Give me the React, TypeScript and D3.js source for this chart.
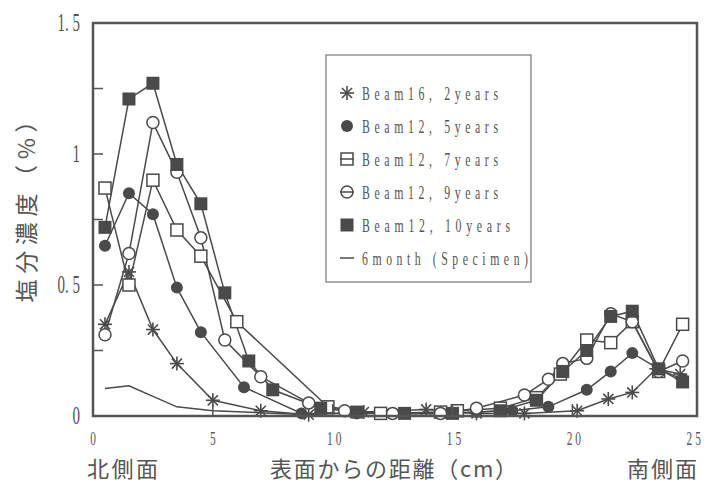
import React from "react";
import * as d3 from "d3";

// distance from north face (cm) and chloride content (%) per series
const x2y = [0.5, 1.5, 2.5, 3.5, 5, 7, 9, 11.3, 13.9, 16, 18, 20.2, 21.5, 22.5, 23.5, 24.5];
const v2y = [0.35, 0.55, 0.33, 0.2, 0.06, 0.02, 0.005, 0.015, 0.025, 0.01, 0.01, 0.02, 0.065, 0.09, 0.18, 0.16];

const x5y = [0.5, 1.5, 2.5, 3.5, 4.5, 6.3, 8.7, 11, 12.5, 14.5, 16, 17.5, 19, 20.6, 21.6, 22.5, 23.6, 24.6];
const v5y = [0.65, 0.85, 0.77, 0.49, 0.32, 0.11, 0.01, 0.01, 0.01, 0.01, 0.015, 0.02, 0.035, 0.1, 0.17, 0.24, 0.18, 0.14];

const x7y = [0.5, 1.5, 2.5, 3.5, 4.5, 6, 9.8, 12, 14.5, 15.2, 17, 18.5, 19.5, 20.6, 21.6, 22.5, 23.6, 24.6];
const v7y = [0.87, 0.5, 0.9, 0.71, 0.61, 0.36, 0.035, 0.01, 0.015, 0.02, 0.03, 0.07, 0.16, 0.29, 0.28, 0.36, 0.17, 0.35];

const x9y = [0.5, 1.5, 2.5, 3.5, 4.5, 5.5, 7, 9, 10.5, 12.5, 14.5, 16, 18, 19, 19.6, 20.6, 21.6, 22.5, 23.6, 24.6];
const v9y = [0.31, 0.62, 1.12, 0.93, 0.68, 0.29, 0.15, 0.05, 0.02, 0.01, 0.01, 0.03, 0.08, 0.14, 0.2, 0.22, 0.39, 0.36, 0.17, 0.21];

const x10y = [0.5, 1.5, 2.5, 3.5, 4.5, 5.5, 6.5, 7.5, 9.5, 11, 13, 15, 17, 18.5, 19.6, 20.6, 21.6, 22.5, 23.6, 24.6];
const v10y = [0.72, 1.21, 1.27, 0.96, 0.81, 0.47, 0.21, 0.1, 0.03, 0.015, 0.01, 0.01, 0.02, 0.06, 0.17, 0.25, 0.38, 0.4, 0.18, 0.13];

const x6m = [0.5, 1.5, 2.5, 3.5, 5, 9.5];
const v6m = [0.105, 0.115, 0.075, 0.035, 0.02, 0.003];

const legendLabels = ["Beam16, 2years", "Beam12, 5years", "Beam12, 7years", "Beam12, 9years", "Beam12, 10years", "6month (Specimen)"];
const legendWidths = [136, 136, 136, 136, 148, 166];
const yTicks = [0, 0.5, 1, 1.5];
const yTickText = ["0", "0. 5", "1", "1. 5"];
const yMinor = [0.25, 0.5, 0.75, 1, 1.25];
const xTicks = [0, 5, 10, 15, 20, 25];

const ink = "#4a4a4a";
const cjk = "'Noto Sans CJK JP', sans-serif";
const num = "'Liberation Serif', serif";

type Shape = "star" | "dot" | "square" | "circle" | "fsquare" | "none";

const Marker = ({ shape, x, y }: { shape: Shape; x: number; y: number }) => {
  if (shape === "star") {
    const r = 7;
    const d = r * 0.72;
    return (
      <g stroke={ink} strokeWidth={1.6}>
        <line x1={x} y1={y - r} x2={x} y2={y + r} />
        <line x1={x - r} y1={y} x2={x + r} y2={y} />
        <line x1={x - d} y1={y - d} x2={x + d} y2={y + d} />
        <line x1={x - d} y1={y + d} x2={x + d} y2={y - d} />
      </g>
    );
  }
  if (shape === "dot") return <circle cx={x} cy={y} r={6} fill={ink} />;
  if (shape === "circle") return <circle cx={x} cy={y} r={6} fill="#fff" stroke={ink} strokeWidth={1.5} />;
  if (shape === "square") return <rect x={x - 6} y={y - 6} width={12} height={12} fill="#fff" stroke={ink} strokeWidth={1.5} />;
  if (shape === "fsquare") return <rect x={x - 6.5} y={y - 6.5} width={13} height={13} fill={ink} />;
  return null;
};

export default function App() {
  const x = d3.scaleLinear().domain([0, 25.2]).range([93, 697]);
  const y = d3.scaleLinear().domain([0, 1.5]).range([416, 23]);

  const series: { xs: number[]; vs: number[]; shape: Shape }[] = [
    { xs: x6m, vs: v6m, shape: "none" },
    { xs: x2y, vs: v2y, shape: "star" },
    { xs: x5y, vs: v5y, shape: "dot" },
    { xs: x7y, vs: v7y, shape: "square" },
    { xs: x9y, vs: v9y, shape: "circle" },
    { xs: x10y, vs: v10y, shape: "fsquare" },
  ];
  const legendShapes: Shape[] = ["star", "dot", "square", "circle", "fsquare", "none"];

  const line = d3
    .line<[number, number]>()
    .x((d) => x(d[0]))
    .y((d) => y(d[1]));

  return (
    <svg width={708} height={483} style={{ position: "absolute", left: 0, top: 0, background: "#fff" }}>
      {/* series lines */}
      {series.map((s, i) => (
        <path
          key={"l" + i}
          d={line(s.xs.map((v, j) => [v, s.vs[j]] as [number, number])) || ""}
          fill="none"
          stroke={ink}
          strokeWidth={1.5}
        />
      ))}
      {/* markers */}
      {series.map((s, i) => (
        <g key={"m" + i}>
          {s.xs.map((v, j) => (
            <Marker key={j} shape={s.shape} x={x(v)} y={y(s.vs[j])} />
          ))}
        </g>
      ))}

      {/* frame */}
      <rect x={93} y={23} width={604} height={393} fill="none" stroke="#555" strokeWidth={2.5} />
      {yMinor.map((t) => (
        <line key={"yt" + t} x1={93} x2={103} y1={y(t)} y2={y(t)} stroke="#555" strokeWidth={1.5} />
      ))}
      {xTicks.slice(1, 5).map((t) => (
        <line key={"xt" + t} x1={x(t)} x2={x(t)} y1={416} y2={404} stroke="#555" strokeWidth={1.5} />
      ))}

      {/* y tick labels */}
      {yTicks.map((t, i) => (
        <text
          key={"yl" + t}
          transform={`translate(80,${y(t) + 8}) scale(0.6,1)`}
          textAnchor="end"
          fontFamily={num}
          fontSize={25}
          fill="#555"
        >
          {yTickText[i]}
        </text>
      ))}
      {/* x tick labels */}
      {xTicks.map((t) => (
        <text
          key={"xl" + t}
          transform={`translate(${x(t) + (t >= 10 ? 3 : 0)},445) scale(0.6,1)`}
          textAnchor="middle"
          fontFamily={num}
          fontSize={19}
          letterSpacing={t >= 10 ? 5 : 0}
          fill="#555"
        >
          {String(t)}
        </text>
      ))}

      {/* axis titles */}
      <text x={87} y={477} fontFamily={cjk} fontSize={22} fill="#555" textLength={71}>北側面</text>
      <text x={627} y={477} fontFamily={cjk} fontSize={22} fill="#555" textLength={70}>南側面</text>
      <text x={270} y={477} fontFamily={cjk} fontSize={22} fill="#555" textLength={247} lengthAdjust="spacing">
        表面からの距離（cm）
      </text>
      <text
        transform="translate(35,206) rotate(-90)"
        textAnchor="middle"
        fontFamily={cjk}
        fontSize={23}
        fill="#555"
        textLength={193}
        lengthAdjust="spacing"
      >
        塩分濃度（%）
      </text>

      {/* legend */}
      <rect x={326} y={55} width={205} height={227} fill="#fff" stroke="#777" strokeWidth={1.2} />
      {legendLabels.map((lab, i) => {
        const cy = 93 + i * 33;
        return (
          <g key={"lg" + i}>
            {legendShapes[i] === "none" ? (
              <line x1={340} x2={354} y1={cy} y2={cy} stroke={ink} strokeWidth={1.5} />
            ) : null}
            <Marker shape={legendShapes[i]} x={347} y={cy} />
            {legendShapes[i] === "square" || legendShapes[i] === "circle" ? (
              <line x1={340} x2={354} y1={cy} y2={cy} stroke={ink} strokeWidth={1.5} />
            ) : null}
            <text
              transform={`translate(362,${cy + 7}) scale(0.62,1)`}
              fontFamily={num}
              fontSize={19}
              fill="#555"
              textLength={legendWidths[i] / 0.62}
              lengthAdjust="spacing"
            >
              {lab}
            </text>
          </g>
        );
      })}
    </svg>
  );
}
